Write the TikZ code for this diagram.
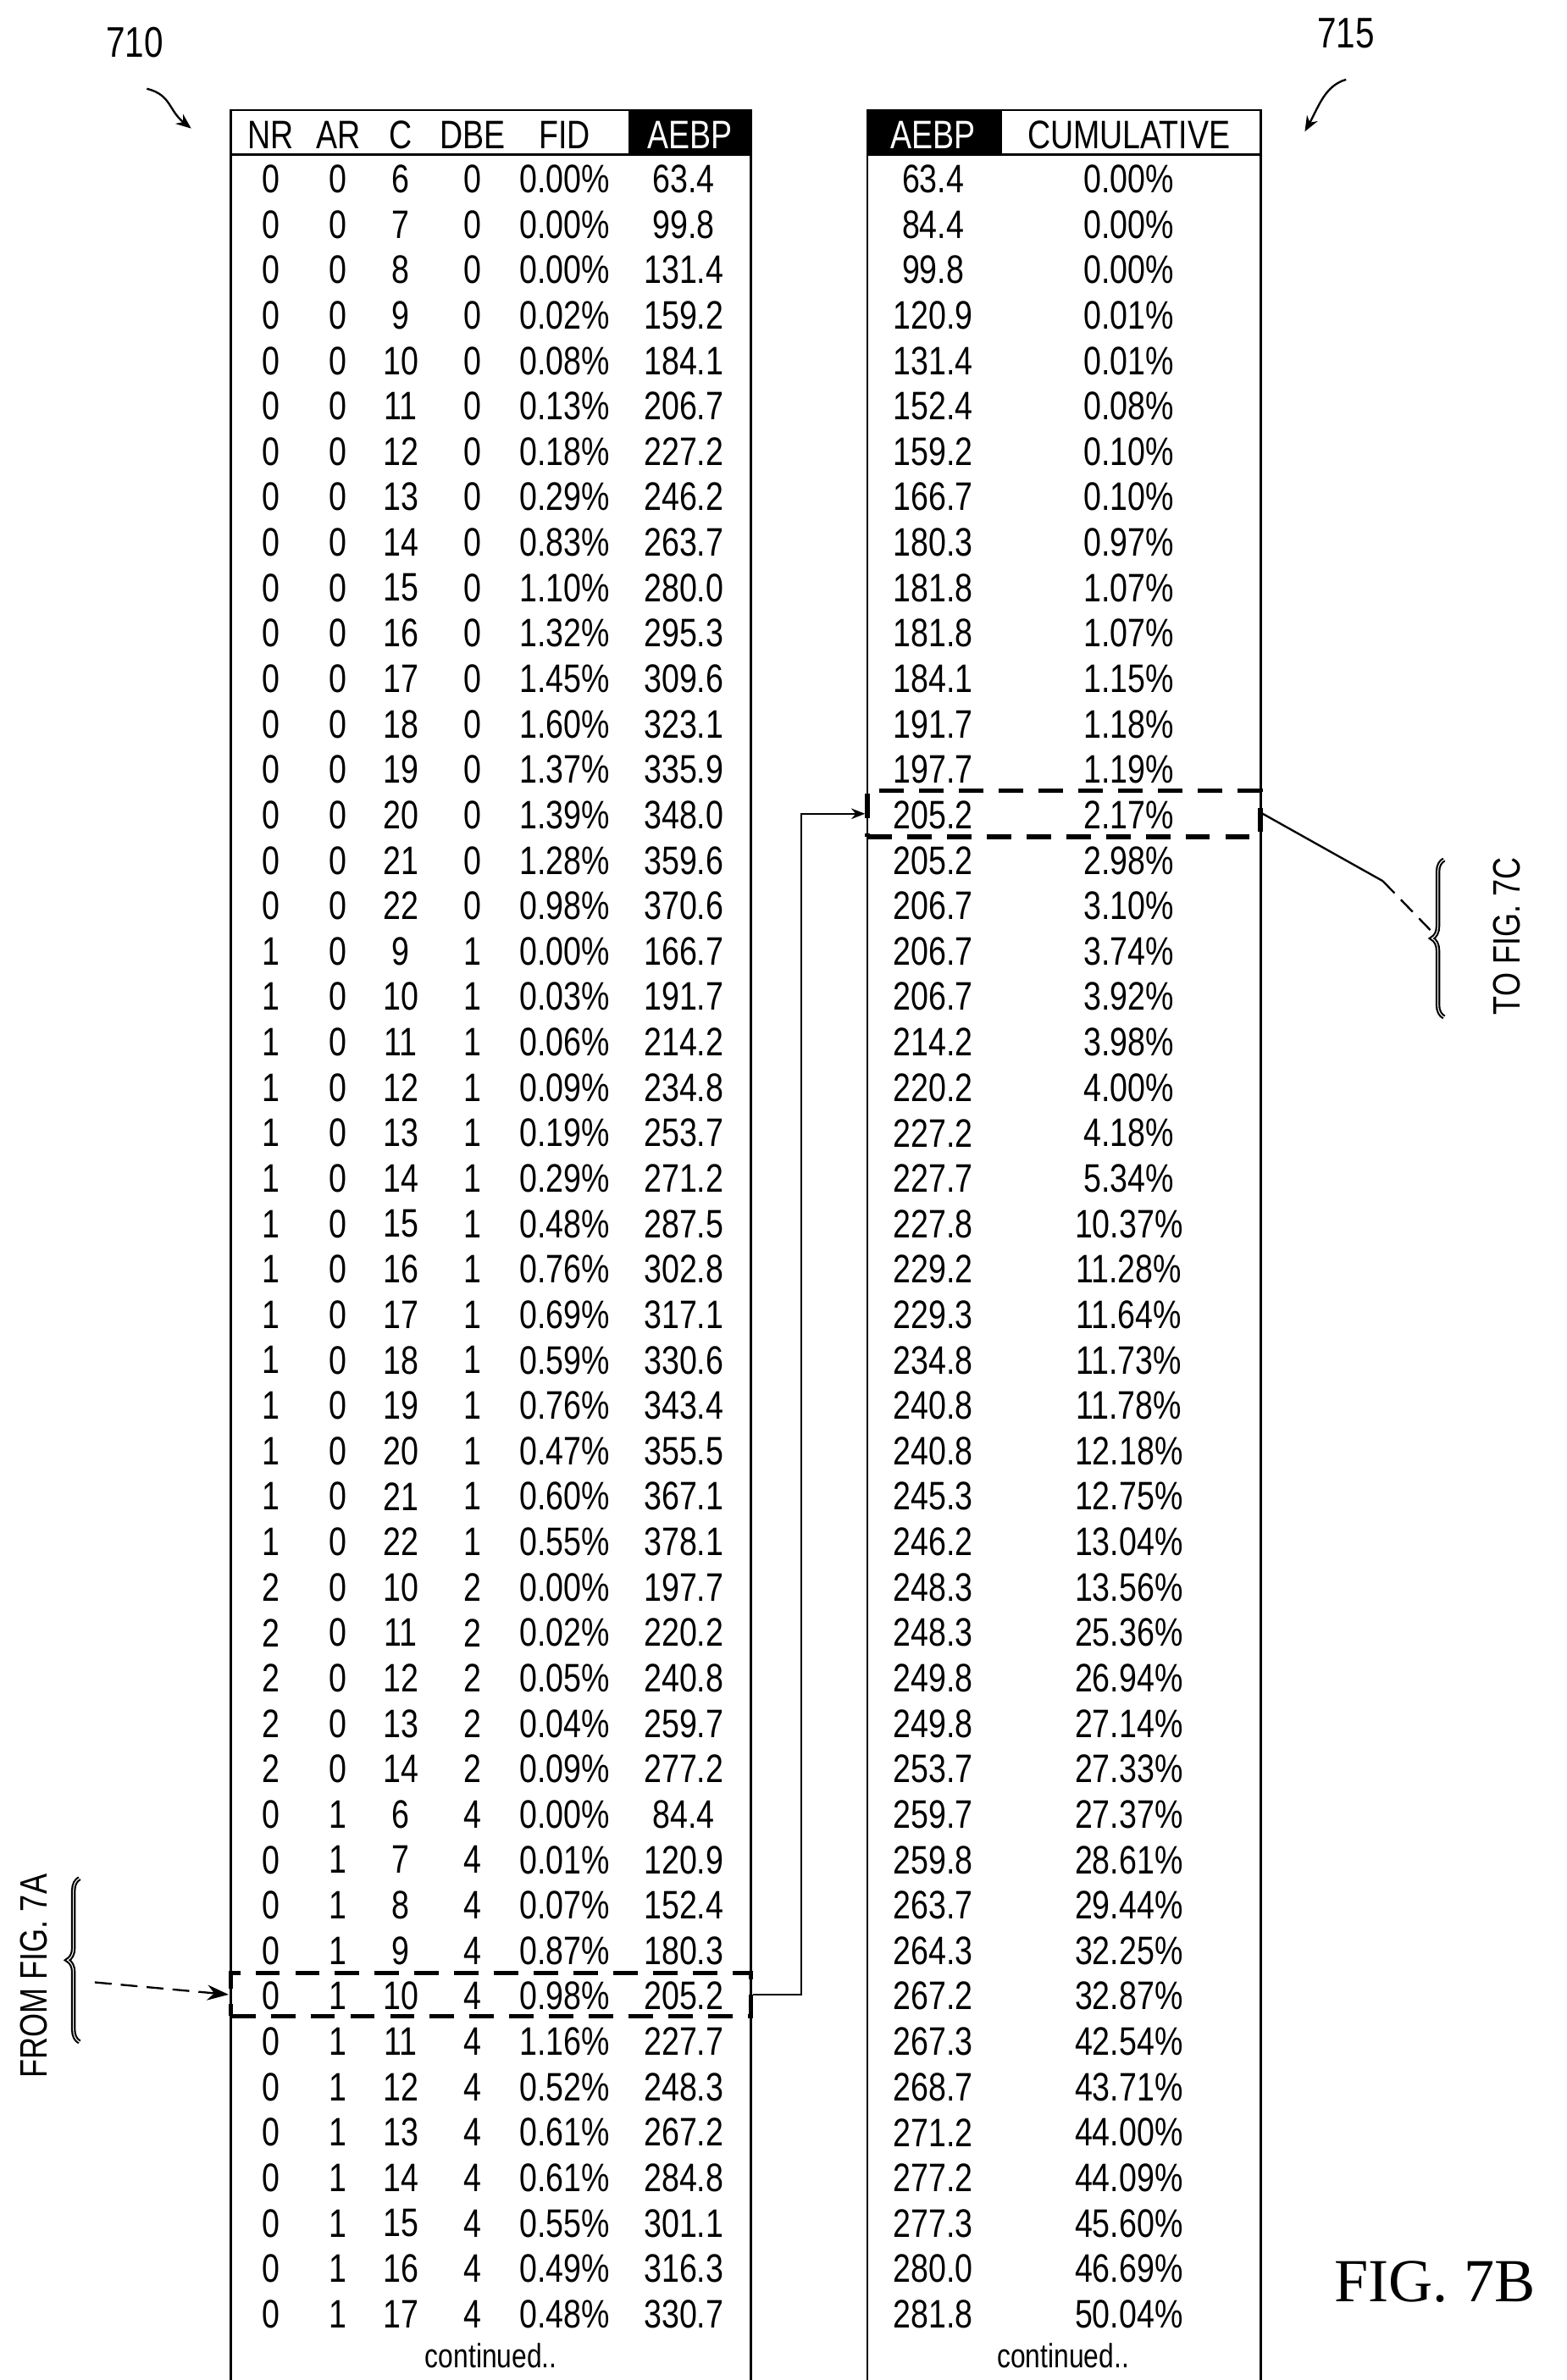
\documentclass[tikz,border=0pt]{standalone}
\usepackage{fontspec}
\setmainfont{Liberation Sans}[FakeStretch=0.8]
\newfontfamily\figfont{Liberation Serif}
\usetikzlibrary{arrows.meta,decorations.pathreplacing}
\begin{document}
\begin{tikzpicture}[x=1pt,y=-1pt,
  cell/.style={inner sep=0pt,font=\fontsize{26}{26}\selectfont,anchor=center},
  hdr/.style={cell},
  frame/.style={line width=1.6pt},
  dbox/.style={line width=3pt,dash pattern=on 16pt off 10pt},
  conn/.style={line width=1.3pt},
  ldash/.style={dash pattern=on 11pt off 6pt}]
\useasboundingbox (0,0) rectangle (1024,1556);
% tables
\draw[frame] (151,1556) |- (491,72) -- (491,1556);
\draw[frame] (567,1556) |- (824,72) -- (824,1556);
\draw[frame] (151,101) -- (491,101);
\draw[frame] (567,101) -- (824,101);
\fill (411,72) rectangle (491,101);
\fill (567,72) rectangle (655,101);
\node[hdr] at (177,88) {NR};
\node[hdr] at (221,88) {AR};
\node[hdr] at (262,88) {C};
\node[hdr] at (309,88) {DBE};
\node[hdr] at (369,88) {FID};
\node[hdr,text=white] at (451,88) {AEBP};
\node[hdr,text=white] at (610,88) {AEBP};
\node[hdr] at (738,88) {CUMULATIVE};
\foreach [count=\i] \a/\b/\c/\d/\e/\f in {
0/0/6/0/0.00\%/63.4,0/0/7/0/0.00\%/99.8,0/0/8/0/0.00\%/131.4,0/0/9/0/0.02\%/159.2,
0/0/10/0/0.08\%/184.1,0/0/11/0/0.13\%/206.7,0/0/12/0/0.18\%/227.2,0/0/13/0/0.29\%/246.2,
0/0/14/0/0.83\%/263.7,0/0/15/0/1.10\%/280.0,0/0/16/0/1.32\%/295.3,0/0/17/0/1.45\%/309.6,
0/0/18/0/1.60\%/323.1,0/0/19/0/1.37\%/335.9,0/0/20/0/1.39\%/348.0,0/0/21/0/1.28\%/359.6,
0/0/22/0/0.98\%/370.6,1/0/9/1/0.00\%/166.7,1/0/10/1/0.03\%/191.7,1/0/11/1/0.06\%/214.2,
1/0/12/1/0.09\%/234.8,1/0/13/1/0.19\%/253.7,1/0/14/1/0.29\%/271.2,1/0/15/1/0.48\%/287.5,
1/0/16/1/0.76\%/302.8,1/0/17/1/0.69\%/317.1,1/0/18/1/0.59\%/330.6,1/0/19/1/0.76\%/343.4,
1/0/20/1/0.47\%/355.5,1/0/21/1/0.60\%/367.1,1/0/22/1/0.55\%/378.1,2/0/10/2/0.00\%/197.7,
2/0/11/2/0.02\%/220.2,2/0/12/2/0.05\%/240.8,2/0/13/2/0.04\%/259.7,2/0/14/2/0.09\%/277.2,
0/1/6/4/0.00\%/84.4,0/1/7/4/0.01\%/120.9,0/1/8/4/0.07\%/152.4,0/1/9/4/0.87\%/180.3,
0/1/10/4/0.98\%/205.2,0/1/11/4/1.16\%/227.7,0/1/12/4/0.52\%/248.3,0/1/13/4/0.61\%/267.2,
0/1/14/4/0.61\%/284.8,0/1/15/4/0.55\%/301.1,0/1/16/4/0.49\%/316.3,0/1/17/4/0.48\%/330.7}{
  \pgfmathsetmacro\yy{117+(\i-1)*29.7}
  \node[cell] at (177,\yy) {\a};
  \node[cell] at (221,\yy) {\b};
  \node[cell] at (262,\yy) {\c};
  \node[cell] at (309,\yy) {\d};
  \node[cell] at (369,\yy) {\e};
  \node[cell] at (447,\yy) {\f};
}
\foreach [count=\i] \a/\b in {
63.4/0.00\%,84.4/0.00\%,99.8/0.00\%,120.9/0.01\%,131.4/0.01\%,152.4/0.08\%,159.2/0.10\%,
166.7/0.10\%,180.3/0.97\%,181.8/1.07\%,181.8/1.07\%,184.1/1.15\%,191.7/1.18\%,197.7/1.19\%,
205.2/2.17\%,205.2/2.98\%,206.7/3.10\%,206.7/3.74\%,206.7/3.92\%,214.2/3.98\%,220.2/4.00\%,
227.2/4.18\%,227.7/5.34\%,227.8/10.37\%,229.2/11.28\%,229.3/11.64\%,234.8/11.73\%,240.8/11.78\%,
240.8/12.18\%,245.3/12.75\%,246.2/13.04\%,248.3/13.56\%,248.3/25.36\%,249.8/26.94\%,249.8/27.14\%,
253.7/27.33\%,259.7/27.37\%,259.8/28.61\%,263.7/29.44\%,264.3/32.25\%,267.2/32.87\%,267.3/42.54\%,
268.7/43.71\%,271.2/44.00\%,277.2/44.09\%,277.3/45.60\%,280.0/46.69\%,281.8/50.04\%}{
  \pgfmathsetmacro\yy{117+(\i-1)*29.7}
  \node[cell] at (610,\yy) {\a};
  \node[cell] at (738,\yy) {\b};
}
\node[cell,font=\fontsize{22}{22}\selectfont] at (321,1540) {continued..};
\node[cell,font=\fontsize{22}{22}\selectfont] at (695,1540) {continued..};
% dashed boxes
\node[draw,dbox,minimum width=340pt,minimum height=28pt,inner sep=0pt] (lb) at (321,1304) {};
\node[draw,dbox,minimum width=257pt,minimum height=30pt,inner sep=0pt] (rb) at (695.5,532) {};
\coordinate (bend1) at (524,1304);
\draw[conn,-{Stealth[length=9pt,width=7pt]}] (lb.east) -- (bend1) |- (rb.west);
% to fig 7C
\coordinate (c1) at (904,576);
\coordinate (c2) at (935,608);
\draw[conn] (rb.east) -- (c1);
\draw[conn,ldash] (c1) -- (c2);
\draw[line width=1.2pt,double,decorate,decoration={brace,amplitude=8pt,mirror}] (944,562) -- (944,665);
\node[cell,rotate=90,font=\fontsize{25}{25}\selectfont] (tof) at (985,612) {TO FIG. 7C};
% from fig 7A
\draw[line width=1.2pt,double,decorate,decoration={brace,amplitude=8pt}] (52,1335) -- (52,1228);
\coordinate (f1) at (62,1296);
\draw[conn,ldash,-{Stealth[length=14pt,width=10pt]}] (f1) -- (lb.west);
\node[cell,rotate=90,font=\fontsize{25}{25}\selectfont] (fromf) at (22,1292) {FROM FIG. 7A};
% reference labels
\node[cell,font=\fontsize{28}{28}\selectfont] (l710) at (88,28) {710};
\node[cell,font=\fontsize{28}{28}\selectfont] (l715) at (880,22) {715};
\coordinate (a710) at (125,84);
\coordinate (a715) at (853,86);
\draw[conn,-{Stealth[length=10pt,width=8pt]}] (96,58) .. controls (112,62) and (110,72) .. (a710);
\draw[conn,-{Stealth[length=10pt,width=8pt]}] (880,52) .. controls (866,56) and (862,70) .. (a715);
\node[inner sep=0pt,font=\figfont\fontsize{40}{40}\selectfont] (fig) at (938,1492) {FIG. 7B};
\end{tikzpicture}
\end{document}
